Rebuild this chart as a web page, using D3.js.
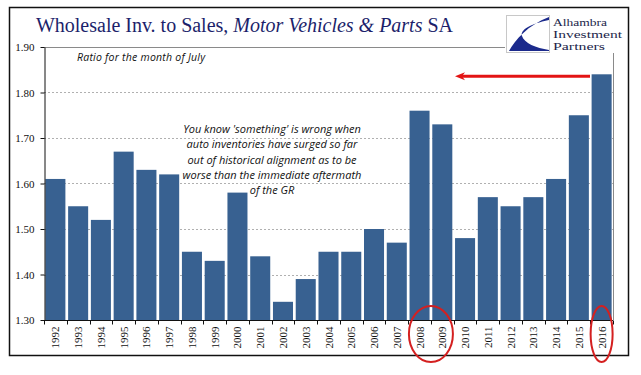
<!DOCTYPE html>
<html>
<head>
<meta charset="utf-8">
<script src="https://cdn.jsdelivr.net/npm/d3@7"></script>
<style>
  body { margin: 0; background: #fff; }
  svg { display: block; }
</style>
</head>
<body>
<div id="chart"></div>
<script>
// data (ratio for July of each year)
const years = [1992, 1993, 1994, 1995, 1996, 1997, 1998, 1999, 2000, 2001, 2002, 2003, 2004,
               2005, 2006, 2007, 2008, 2009, 2010, 2011, 2012, 2013, 2014, 2015, 2016]
const ratios = [1.61, 1.55, 1.52, 1.67, 1.63, 1.62, 1.45, 1.43, 1.58, 1.44, 1.34, 1.39, 1.45,
                1.45, 1.50, 1.47, 1.76, 1.73, 1.48, 1.57, 1.55, 1.57, 1.61, 1.75, 1.84]
const yTicks = [1.30, 1.40, 1.50, 1.60, 1.70, 1.80, 1.90]
const noteLines = [
  "You know 'something' is wrong when",
  "auto inventories have surged so far",
  "out of historical alignment as to be",
  "worse than the immediate aftermath",
  "of the GR"
]
const circledYears = [[2008, 2009], [2016, 2016]]

const width = 641, height = 375
const plotLeft = 44, plotRight = 613, plotTop = 47, plotBottom = 320

const svg = d3.select("#chart").append("svg")
    .attr("width", width)
    .attr("height", height)

// outer frame
svg.append("rect")
    .attr("x", 9.5).attr("y", 7.5)
    .attr("width", 619).attr("height", 348)
    .attr("fill", "none")
    .attr("stroke", "#111")
    .attr("stroke-width", 1.5)

let x = d3.scaleBand()
    .domain(years)
    .range([plotLeft, plotRight])
    .paddingInner(0.12)
    .paddingOuter(0.06)

let y = d3.scaleLinear()
    .domain([1.3, 1.9])
    .range([plotBottom, plotTop])

// dashed gridlines
svg.append("g")
    .selectAll("line")
    .data(yTicks.filter(d => d > 1.3 && d < 1.9))
    .enter()
    .append("line")
    .attr("x1", plotLeft).attr("x2", plotRight)
    .attr("y1", d => Math.round(y(d)) + 0.5)
    .attr("y2", d => Math.round(y(d)) + 0.5)
    .attr("stroke", "#b0b0b0")
    .attr("stroke-dasharray", "2,2")

// top line (stops at the logo) and right border of plot
svg.append("line")
    .attr("x1", plotLeft).attr("x2", 505)
    .attr("y1", Math.round(y(1.9)) + 0.5).attr("y2", Math.round(y(1.9)) + 0.5)
    .attr("stroke", "#8a8a8a")
svg.append("line")
    .attr("x1", plotRight + 0.5).attr("x2", plotRight + 0.5)
    .attr("y1", 53).attr("y2", plotBottom)
    .attr("stroke", "#8a8a8a")

// bars
svg.append("g")
    .selectAll("rect")
    .data(years)
    .enter()
    .append("rect")
    .attr("x", d => x(d))
    .attr("width", x.bandwidth())
    .attr("y", (d, i) => y(ratios[i]))
    .attr("height", (d, i) => plotBottom - y(ratios[i]))
    .attr("fill", "#386191")

// y axis
let yAxis = svg.append("g")
    .attr("transform", "translate(" + (plotLeft + 0.5) + ",0)")
    .call(d3.axisLeft(y).tickValues(yTicks).tickFormat(d3.format(".2f")).tickSize(4).tickSizeOuter(0))
yAxis.select(".domain").attr("stroke", "#111")
yAxis.selectAll(".tick line").attr("stroke", "#111")
yAxis.selectAll("text")
    .attr("x", -10)
    .style("font-family", "'Liberation Serif', serif")
    .style("font-size", "11px")
    .attr("fill", "#111")

// x axis with ticks at band edges
let xAxis = svg.append("g")
    .attr("transform", "translate(0," + (plotBottom + 0.5) + ")")
xAxis.append("line")
    .attr("x1", plotLeft).attr("x2", plotRight)
    .attr("stroke", "#111")
xAxis.selectAll("line.edge")
    .data(years.concat([null]))
    .enter()
    .append("line")
    .attr("class", "edge")
    .attr("x1", (d, i) => Math.round(plotLeft + i * x.step()) + 0.5)
    .attr("x2", (d, i) => Math.round(plotLeft + i * x.step()) + 0.5)
    .attr("y1", 0).attr("y2", 4)
    .attr("stroke", "#111")
xAxis.selectAll("text")
    .data(years)
    .enter()
    .append("text")
    .attr("transform", d => "translate(" + (x(d) + x.bandwidth() / 2 + 4) + ",6) rotate(-90)")
    .attr("text-anchor", "end")
    .style("font-family", "'Liberation Serif', serif")
    .style("font-size", "11px")
    .attr("fill", "#111")
    .text(d => d)

// title
let title = svg.append("text")
    .attr("x", 36).attr("y", 32)
    .style("font-family", "'Liberation Serif', serif")
    .style("font-size", "20px")
    .attr("fill", "#1c1f6b")
    .attr("textLength", 417)
    .attr("lengthAdjust", "spacingAndGlyphs")
title.append("tspan").text("Wholesale Inv. to Sales, ")
title.append("tspan").style("font-style", "italic").text("Motor Vehicles & Parts")
title.append("tspan").text(" SA")

// subtitle
svg.append("text")
    .attr("x", 77).attr("y", 61)
    .style("font-family", "'Open Sans', sans-serif")
    .style("font-style", "italic")
    .style("font-size", "10.5px")
    .attr("fill", "#111")
    .attr("textLength", 128)
    .text("Ratio for the month of July")

// annotation
svg.append("g")
    .selectAll("text")
    .data(noteLines)
    .enter()
    .append("text")
    .attr("x", 272)
    .attr("y", (d, i) => 133 + i * 15.3)
    .attr("text-anchor", "middle")
    .style("font-family", "'Open Sans', sans-serif")
    .style("font-style", "italic")
    .style("font-size", "11px")
    .attr("fill", "#111")
    .text(d => d)

// red arrow pointing back from 2016 level
let arrowY = y(ratios[ratios.length - 1]) + 2
svg.append("line")
    .attr("x1", 590).attr("x2", 462)
    .attr("y1", arrowY).attr("y2", arrowY)
    .attr("stroke", "#e31414")
    .attr("stroke-width", 3)
svg.append("path")
    .attr("d", `M455,${arrowY} L465,${arrowY - 4} L462,${arrowY} L465,${arrowY + 4} Z`)
    .attr("fill", "#e31414")

// circles round the labels
svg.append("g")
    .selectAll("ellipse")
    .data(circledYears)
    .enter()
    .append("ellipse")
    .attr("cx", d => (x(d[0]) + x(d[1]) + x.bandwidth()) / 2)
    .attr("cy", 334)
    .attr("rx", d => d[0] === d[1] ? 11 : 22)
    .attr("ry", 28)
    .attr("fill", "none")
    .attr("stroke", "#d42020")
    .attr("stroke-width", 2)

// logo
let logo = svg.append("g")
logo.append("rect")
    .attr("x", 506.5).attr("y", 15.5)
    .attr("width", 43).attr("height", 37)
    .attr("fill", "#fff")
    .attr("stroke", "#c8c8c8")
logo.append("path")
    .attr("d", "M549,17 L549,20 C530,24 520,30 522,36 C524,43 536,48 549,50 L549,51 L509,51 C515,40 528,25 549,17 Z")
    .attr("fill", "#1b2a8c")
logo.selectAll("text")
    .data([["Alhambra", 54], ["Investment", 69], ["Partners", 52]])
    .enter()
    .append("text")
    .attr("x", 553)
    .attr("y", (d, i) => 26 + i * 12)
    .style("font-family", "'Liberation Serif', serif")
    .style("font-size", "10.5px")
    .attr("fill", "#1c1f4b")
    .attr("textLength", d => d[1])
    .attr("lengthAdjust", "spacingAndGlyphs")
    .text(d => d[0])
</script>
</body>
</html>
